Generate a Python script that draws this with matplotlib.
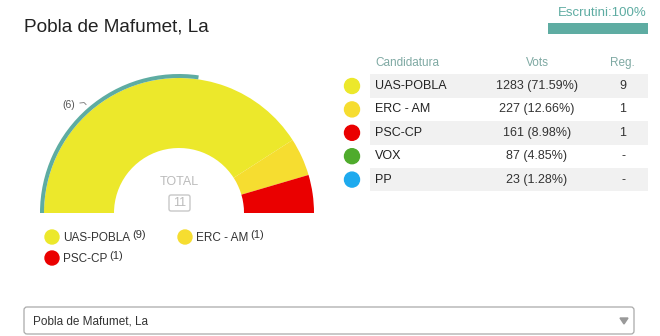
import numpy as np
import matplotlib.pyplot as plt
from matplotlib.patches import Wedge, Circle, Rectangle, FancyBboxPatch, Polygon

plt.rcParams['font.family'] = ['Liberation Sans', 'DejaVu Sans']

title = "Pobla de Mafumet, La"
parties = ["UAS-POBLA", "ERC - AM", "PSC-CP", "VOX", "PP"]
votes = [1283, 227, 161, 87, 23]
pcts = [71.59, 12.66, 8.98, 4.85, 1.28]
seats = [9, 1, 1, 0, 0]
colors = ["#ece82b", "#f6dd30", "#ea0000", "#4fab2c", "#1eaaee"]
majority = 6
scrutiny = 100

teal = "#5eaca2"
head_col = "#7fa9a3"

fig = plt.figure(figsize=(6.6, 3.36), dpi=100)
ax = fig.add_axes([0, 0, 1, 1])
ax.set_xlim(0, 660)
ax.set_ylim(336, 0)
ax.axis("off")

# title and scrutiny bar
ax.text(24, 27, title, fontsize=13.7, color="#222222", va="center", ha="left")
ax.text(647, 13, f"Escrutini:{scrutiny}%", fontsize=9.5, color=teal, va="center", ha="right")
ax.add_patch(Rectangle((548, 23), 100 * scrutiny / 100, 11, color=teal, lw=0))

# hemicycle (y axis is inverted, so angles are mirrored)
cx, cy, r_out, r_in = 179, 213, 135, 65
total = sum(seats)
start = 180.0
for s, c in zip(seats, colors):
    if s == 0:
        continue
    span = 180.0 * s / total
    ax.add_patch(Wedge((cx, cy), r_out, -start, -(start - span), width=r_out - r_in,
                       facecolor=c, edgecolor="none"))
    start -= span
maj_ang = 180.0 - 180.0 * majority / total
ax.add_patch(Wedge((cx, cy), r_out + 4, -180, -maj_ang, width=4, facecolor=teal, edgecolor="none"))
ax.text(69, 105, f"({majority})", fontsize=7.5, color="#555555", va="center", ha="center")
ax.plot([80, 84, 86], [103, 102.5, 104.5], color="#888888", lw=0.7)

ax.text(cx, 182, "TOTAL", fontsize=9, color="#bbbbbb", va="center", ha="center")
ax.add_patch(FancyBboxPatch((169, 195), 21, 16, boxstyle="round,pad=0,rounding_size=2",
                            facecolor="white", edgecolor="#c8c8c8", lw=1))
ax.text(179.5, 203.5, str(total), fontsize=9, color="#bbbbbb", va="center", ha="center")

# legend under the hemicycle
leg_pos = [(52, 237), (185, 237), (52, 258)]
k = 0
for p, s, c in zip(parties, seats, colors):
    if s == 0:
        continue
    x, y = leg_pos[k]
    k += 1
    ax.add_patch(Circle((x, y), 7, color=c))
    t = ax.text(x + 11, y + 1, p, fontsize=8.5, color="#333333", va="center", ha="left")
    fig.canvas.draw()
    bb = t.get_window_extent().transformed(ax.transData.inverted())
    ax.text(bb.x1 + 2, y - 2, f"({s})", fontsize=8, color="#333333", va="center", ha="left")

# table
ax.text(375, 63, "Candidatura", fontsize=8.5, color=head_col, va="center", ha="left")
ax.text(537, 63, "Vots", fontsize=8.5, color=head_col, va="center", ha="center")
ax.text(622, 63, "Reg.", fontsize=8.5, color=head_col, va="center", ha="center")
row_h = 23.4
for i, (p, v, pc, s, c) in enumerate(zip(parties, votes, pcts, seats, colors)):
    yc = 86 + i * row_h
    if i % 2 == 0:
        ax.add_patch(Rectangle((370, yc - row_h / 2), 278, row_h, facecolor="#f1f1f1", edgecolor="none"))
    ax.add_patch(Circle((352, yc), 7.5, color=c))
    ax.text(375, yc, p, fontsize=9, color="#222222", va="center", ha="left")
    ax.text(537, yc, f"{v} ({pc:.2f}%)", fontsize=9, color="#333333", va="center", ha="center")
    ax.text(623, yc, str(s) if s > 0 else "-", fontsize=9, color="#333333", va="center", ha="center")

# dropdown
ax.add_patch(FancyBboxPatch((24, 307), 610, 27, boxstyle="round,pad=0,rounding_size=3",
                            facecolor="white", edgecolor="#aaaaaa", lw=0.9))
ax.text(33, 321, title, fontsize=8.5, color="#333333", va="center", ha="left")
ax.add_patch(Polygon([[620, 318], [628, 318], [624, 324]], closed=True, color="#999999"))

fig.savefig("out.png", dpi=100)
